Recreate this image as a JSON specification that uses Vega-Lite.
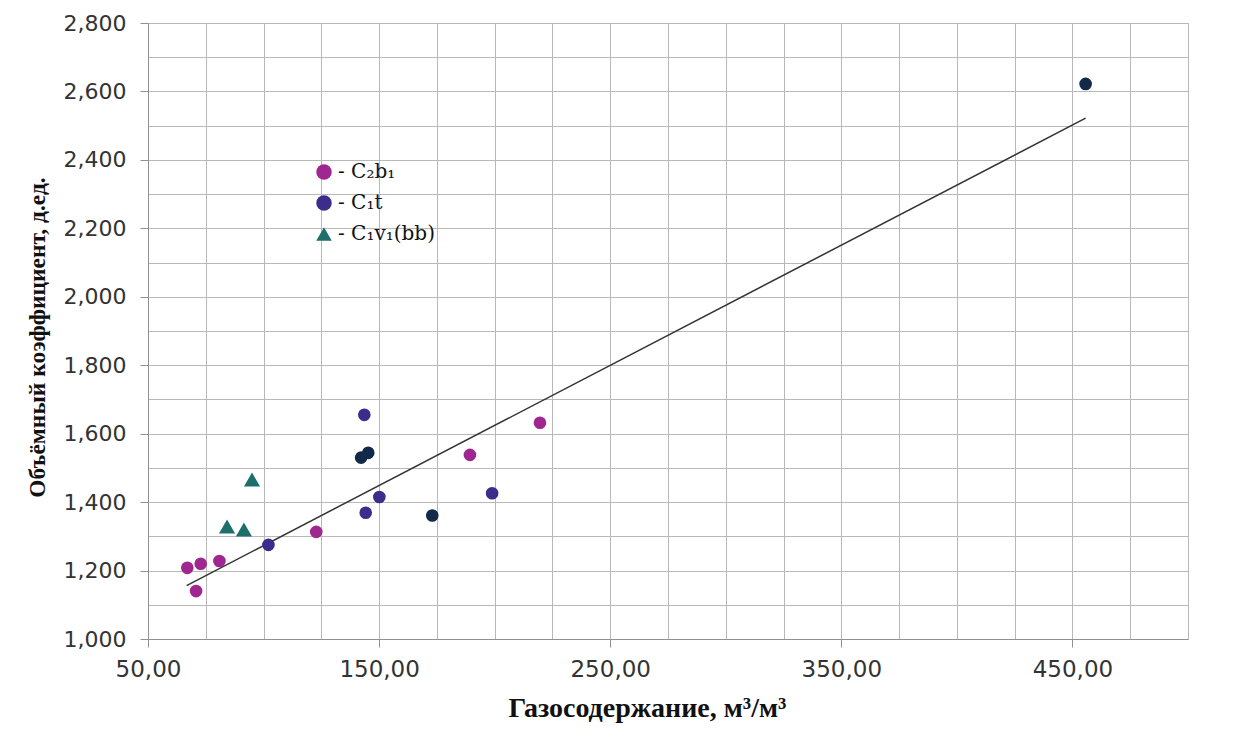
{
  "$schema": "https://vega.github.io/schema/vega-lite/v6.json",
  "autosize": {"type": "none"},
  "width": 1040,
  "height": 616,
  "padding": {"left": 148, "top": 23, "right": 63, "bottom": 99},
  "background": "white",
  "config": {
    "view": {"stroke": "#a0a0a0", "strokeWidth": 1},
    "axis": {"gridColor": "#b8b8b8", "gridWidth": 1, "domainColor": "#909090", "tickColor": "#909090"}
  },
  "datasets": {
    "pts": [
      {"gas": 67.0, "coef": 1.208, "series": "C₂b₁"},
      {"gas": 72.8, "coef": 1.220, "series": "C₂b₁"},
      {"gas": 80.9, "coef": 1.228, "series": "C₂b₁"},
      {"gas": 70.8, "coef": 1.140, "series": "C₂b₁"},
      {"gas": 122.8, "coef": 1.313, "series": "C₂b₁"},
      {"gas": 189.3, "coef": 1.538, "series": "C₂b₁"},
      {"gas": 219.6, "coef": 1.632, "series": "C₂b₁"},
      {"gas": 102.1, "coef": 1.275, "series": "C₁t"},
      {"gas": 143.6, "coef": 1.655, "series": "C₁t"},
      {"gas": 144.2, "coef": 1.369, "series": "C₁t"},
      {"gas": 150.1, "coef": 1.415, "series": "C₁t"},
      {"gas": 198.9, "coef": 1.426, "series": "C₁t"},
      {"gas": 142.2, "coef": 1.530, "series": "C₁t*"},
      {"gas": 145.3, "coef": 1.544, "series": "C₁t*"},
      {"gas": 173.0, "coef": 1.361, "series": "C₁t*"},
      {"gas": 455.7, "coef": 2.622, "series": "C₁t*"},
      {"gas": 84.2, "coef": 1.329, "series": "C₁v₁(bb)"},
      {"gas": 91.5, "coef": 1.320, "series": "C₁v₁(bb)"},
      {"gas": 95.0, "coef": 1.466, "series": "C₁v₁(bb)"}
    ],
    "trend": [
      {"gas": 66.7, "coef": 1.156},
      {"gas": 455.7, "coef": 2.522}
    ]
  },
  "encoding": {
    "x": {
      "field": "gas", "type": "quantitative",
      "scale": {"domain": [50, 500], "nice": false, "zero": false},
      "axis": {
        "values": [50,75,100,125,150,175,200,225,250,275,300,325,350,375,400,425,450,475,500],
        "labelExpr": "(datum.value - 50) % 100 == 0 ? replace(format(datum.value, '.2f'), '.', ',') : ''",
        "tickOpacity": {"condition": {"test": "(datum.value - 50) % 100 == 0", "value": 1}, "value": 0},
        "tickSize": 8,
        "labelFont": "DejaVu Sans", "labelFontSize": 23, "labelColor": "#333333",
        "labelPadding": 11, "labelFlush": false, "labelOverlap": false,
        "title": "Газосодержание, м³/м³",
        "titleFont": "Liberation Serif", "titleFontSize": 28, "titleFontWeight": "bold", "titleColor": "#111111",
        "titleX": 499, "titleY": 69, "titleAnchor": "middle", "titleAlign": "center", "titleBaseline": "middle"
      }
    },
    "y": {
      "field": "coef", "type": "quantitative",
      "scale": {"domain": [1, 2.8], "nice": false, "zero": false},
      "axis": {
        "values": [1,1.1,1.2,1.3,1.4,1.5,1.6,1.7,1.8,1.9,2,2.1,2.2,2.3,2.4,2.5,2.6,2.7,2.8],
        "labelExpr": "round(datum.value * 10) % 2 == 0 ? replace(format(datum.value, '.3f'), '.', ',') : ''",
        "tickOpacity": {"condition": {"test": "round(datum.value * 10) % 2 == 0", "value": 1}, "value": 0},
        "tickSize": 8,
        "labelFont": "DejaVu Sans", "labelFontSize": 22, "labelColor": "#333333",
        "labelPadding": 14, "labelOverlap": false,
        "title": "Объёмный коэффициент, д.ед.",
        "titleFont": "Liberation Serif", "titleFontSize": 23.5, "titleFontWeight": "bold", "titleColor": "#111111",
        "titleX": -111, "titleY": 314, "titleAngle": -90, "titleAlign": "center", "titleBaseline": "middle"
      }
    }
  },
  "layer": [
    {
      "data": {"name": "trend"},
      "mark": {"type": "line", "color": "#333333", "strokeWidth": 1.5}
    },
    {
      "data": {"name": "pts"},
      "mark": {"type": "point", "filled": true, "opacity": 1},
      "encoding": {
        "size": {"condition": {"test": "datum.series == 'C₁v₁(bb)'", "value": 260}, "value": 160},
        "color": {
          "field": "series", "type": "nominal",
          "scale": {"domain": ["C₂b₁", "C₁t", "C₁v₁(bb)", "C₁t*"], "range": ["#A0278F", "#3D2C8C", "#1E6E6A", "#12294A"]},
          "legend": {
            "values": ["C₂b₁", "C₁t", "C₁v₁(bb)"],
            "title": null, "orient": "none", "legendX": 166, "legendY": 139,
            "labelExpr": "'- ' + datum.label",
            "labelFont": "DejaVu Serif", "labelFontSize": 20, "labelColor": "#111111",
            "symbolSize": 240, "rowPadding": 11, "labelOffset": 4, "padding": 0
          }
        },
        "shape": {
          "field": "series", "type": "nominal",
          "scale": {"domain": ["C₂b₁", "C₁t", "C₁v₁(bb)", "C₁t*"], "range": ["circle", "circle", "triangle-up", "circle"]},
          "legend": {
            "values": ["C₂b₁", "C₁t", "C₁v₁(bb)"],
            "title": null, "orient": "none", "legendX": 166, "legendY": 139,
            "labelExpr": "'- ' + datum.label",
            "labelFont": "DejaVu Serif", "labelFontSize": 20, "labelColor": "#111111",
            "symbolSize": 240, "rowPadding": 11, "labelOffset": 4, "padding": 0
          }
        }
      }
    }
  ]
}
